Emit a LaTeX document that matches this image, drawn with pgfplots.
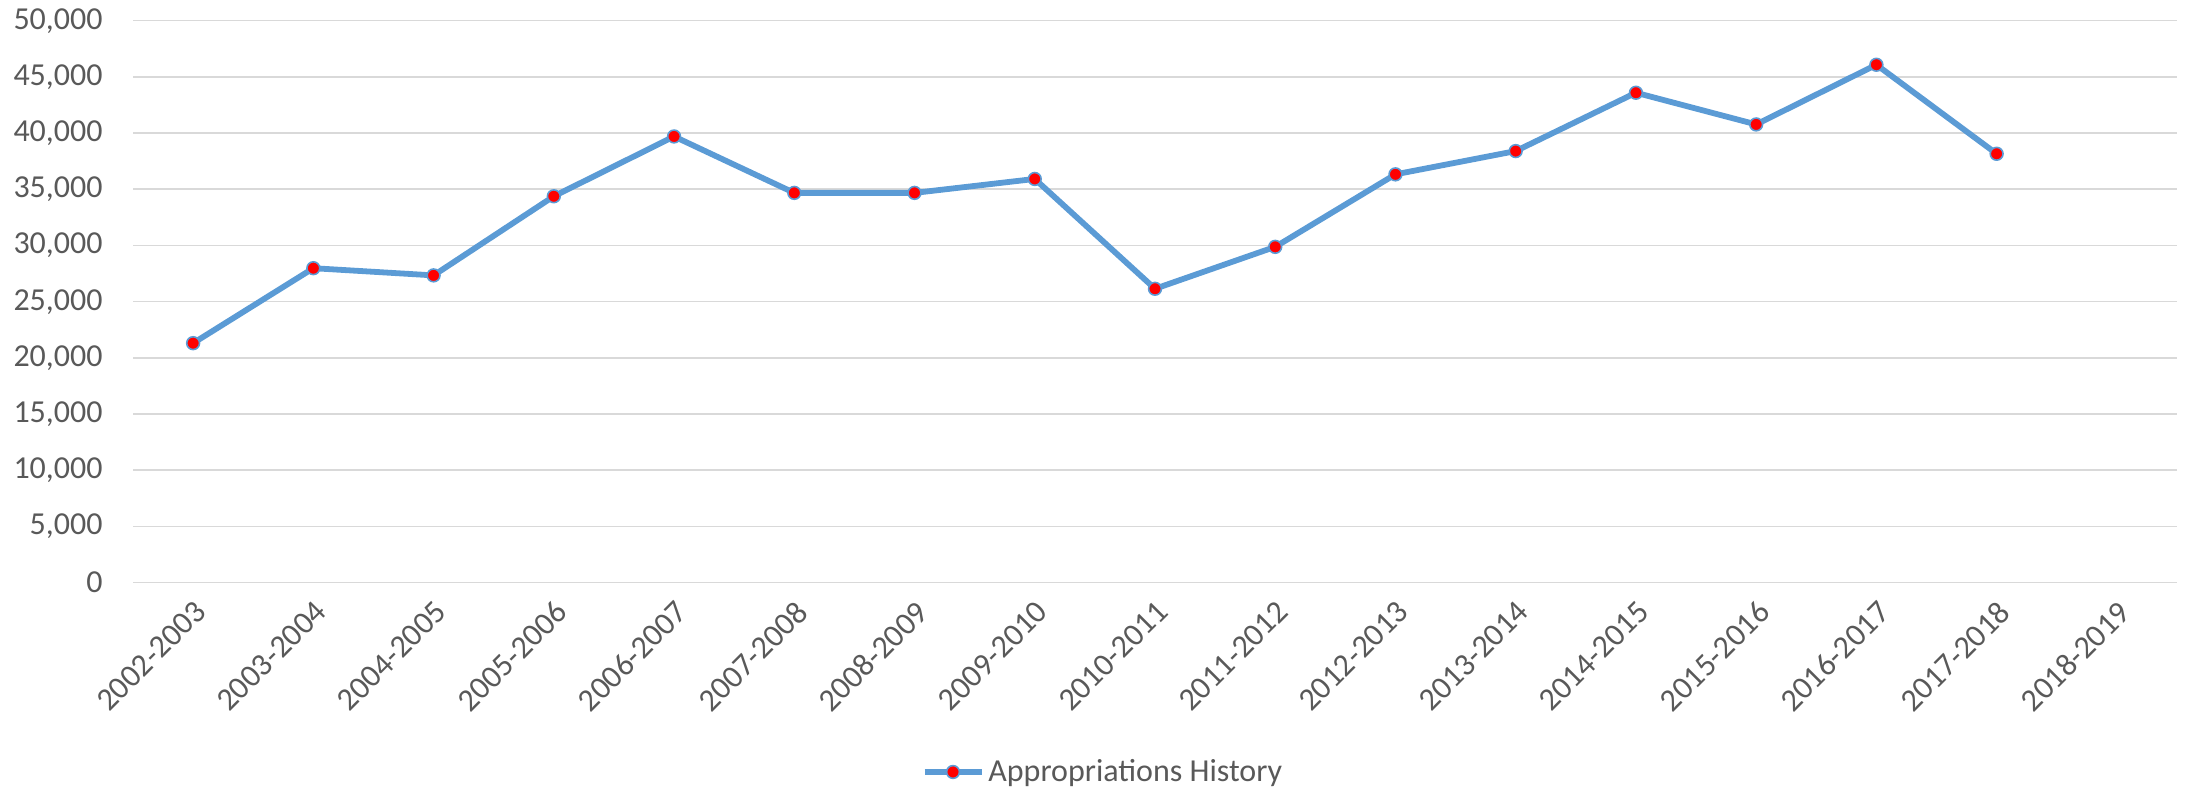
\documentclass[border=0pt]{standalone}
\usepackage{fontspec}
\setmainfont{Carlito}
\usepackage{pgfplots}
\pgfplotsset{compat=1.18}
\definecolor{lineblue}{HTML}{5B9BD5}
\definecolor{gridgray}{HTML}{D9D9D9}
\definecolor{textgray}{HTML}{595959}
\begin{document}
\begin{tikzpicture}
\path[use as bounding box] (0,0) rectangle (1094pt,395pt);
\begin{axis}[
  at={(66.5pt,103.65pt)}, anchor=south west,
  scale only axis, width=1022pt, height=281pt,
  xmin=-0.5, xmax=16.5, ymin=0, ymax=50000,
  xtick={0,...,16},
  xticklabels={2002-2003,2003-2004,2004-2005,2005-2006,2006-2007,2007-2008,2008-2009,2009-2010,2010-2011,2011-2012,2012-2013,2013-2014,2014-2015,2015-2016,2016-2017,2017-2018,2018-2019},
  ytick={0,5000,...,50000},
  scaled y ticks=false,
  /pgf/number format/.cd, fixed, 1000 sep={,}, assume math mode=true, /pgfplots/.cd,
  axis line style={draw=none},
  major tick length=0pt,
  ymajorgrids, major grid style={gridgray, line width=0.8pt},
  tick label style={font=\fontsize{16}{19}\selectfont, text=textgray},
  yticklabel style={anchor=east, inner sep=0pt, xshift=-15pt},
  xticklabel style={yshift=-8pt, xshift=0pt, rotate=45, anchor=north east, inner sep=0pt},
  legend style={at={(0.475,-0.3368)}, anchor=center, draw=none, fill=none,
    font=\fontsize{16}{19}\selectfont, text=textgray},
  legend image code/.code={
    \draw[mark repeat=2, mark phase=2, #1] plot coordinates {(0pt,0pt) (14.25pt,0pt) (28.5pt,0pt)};
  },
]
\addplot[color=lineblue, line width=2.9pt, mark=*, mark size=3.2pt,
  mark options={fill=red, draw=lineblue, line width=0.8pt}]
  coordinates {
  (0,21310) (1,27980) (2,27340) (3,34380) (4,39700) (5,34680) (6,34680)
  (7,35920) (8,26150) (9,29880) (10,36330) (11,38400) (12,43590)
  (13,40770) (14,46080) (15,38160)
  };
\addlegendentry{Appropriations History}
\end{axis}
\end{tikzpicture}
\end{document}
